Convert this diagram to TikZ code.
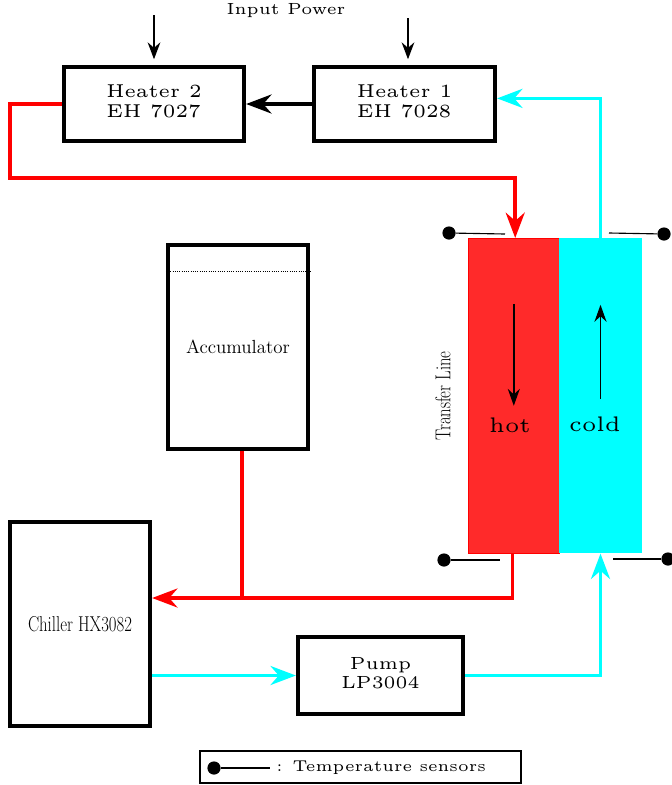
\documentclass[tikz,border=0pt]{standalone}
\usepackage{graphicx}
\usetikzlibrary{arrows.meta,calc,positioning}
\definecolor{hotred}{RGB}{255,42,42}
\definecolor{aqua}{RGB}{0,255,255}
\newcommand{\wtext}[3][c]{\scalebox{#2}{\fontsize{5}{4.6}\selectfont\begin{tabular}{@{}#1@{}}#3\end{tabular}}}
\newcommand{\ntext}[1]{\scalebox{0.70}[0.9]{\fontsize{17}{20}\selectfont #1}}

\begin{document}
\begin{tikzpicture}[x=0.025cm,y=-0.025cm,
  box/.style={draw,line width=3pt,rectangle,inner sep=0pt},
  flow/.style={line width=2.6pt,-{Stealth[length=18pt,width=13.5pt]}},
  hotline/.style={flow,red},
  coldline/.style={flow,aqua},
  power/.style={line width=1.4pt,-{Stealth[length=12pt,width=9pt]},shorten >=4pt},
  dirarrow/.style={line width=1.4pt,-{Stealth[length=12pt,width=8.5pt]}},
  sdot/.style={circle,fill=black,inner sep=0pt,minimum size=0.33cm},
  sensor/.style={line width=0.8pt},
]
\useasboundingbox (0,0) rectangle (672,785);

% the heaters
\node[box,minimum width=4.5cm,minimum height=1.85cm] (h2) at (154,104) {\wtext[l]{2.65}{Heater 2\\[0.5pt]EH 7027}};
\node[box,minimum width=4.525cm,minimum height=1.85cm] (h1) at (404.5,104) {\wtext[l]{2.65}{Heater 1\\[0.5pt]EH 7028}};
\node (inpow) at (286,11) {\wtext{2.3}{Input Power}};
\coordinate (p2) at (154,15);
\coordinate (p1) at (408,18);
\draw[power] (p2) -- (p2 |- h2.north);
\draw[power] (p1) -- (p1 |- h1.north);
\draw[flow,line width=2.8pt] (h1.west) -- (h2.east);

% the transfer line
\node[fill=hotred,draw=red,line width=0.4pt,inner sep=0pt,minimum width=2.275cm,minimum height=7.875cm] (hot) at (513.8,395.8) {};
\node[fill=aqua,inner sep=0pt,minimum width=2.06cm,minimum height=7.875cm] (cold) at (600.5,395.8) {};
\node (hottxt) at (510,428) {\wtext{3}{hot}};
\node (coldtxt) at (595,427) {\wtext{3}{cold}};
\node[rotate=90] (tltxt) at (443,396) {\ntext{Transfer Line}};
\draw[dirarrow] ($(hot.center)+(0,-92)$) -- ($(hot.center)+(0,10)$);
\draw[dirarrow] ($(cold.center)+(0,3)$) -- ($(cold.center)+(0,-91)$);

% the sensors
\foreach \n/\d/\e in {1/{449,233}/{505,234},2/{664,234}/{609,233},3/{444,560}/{500,560},4/{668,559}/{613,559}}{
  \node[sdot] (s\n) at (\d) {};
  \coordinate (t\n) at (\e);
  \draw[sensor] (s\n) -- (t\n);
}

% accumulator, chiller, pump
\node[box,minimum width=3.5cm,minimum height=5.1cm] (acc) at (238,347) {\fontsize{13.5}{15}\selectfont Accumulator};
\draw[densely dotted,line width=0.6pt] ($(acc.north west)+(0,29)$) -- ($(acc.north east)+(0,29)$);
\node[box,minimum width=3.5cm,minimum height=5.1cm] (chill) at (80,624) {\ntext{Chiller HX3082}};
\node[box,minimum width=4.125cm,minimum height=1.925cm] (pump) at (380.5,675.5) {\wtext{2.5}{Pump\\[0.6pt]LP3004}};

% hot loop
\coordinate (bend1) at (10,178);
\draw[hotline] (h2.west) -| (bend1) -| ([xshift=1pt]hot.north);
\coordinate (join) at (242,598);
\draw[hotline] ([xshift=-1pt]hot.south) |- (join) -- (join -| chill.east);
\draw[hotline,-] (acc.south -| join) -- (join);

% cold loop
\draw[coldline] (chill.east |- pump.west) -- (pump.west);
\draw[coldline] (pump.east) -| (cold.south);
\draw[coldline] (cold.north) |- ([yshift=4pt]h1.east);

% the legend
\node[draw,line width=1.4pt,inner sep=0pt,minimum width=8.025cm,minimum height=0.8cm] (legend) at (360.5,767) {};
\node[sdot] (ld) at (214,768) {};
\coordinate (le) at (270,768);
\draw[sensor] (ld) -- (le);
\node[right=1pt of le] (ltxt) {\wtext{2.23}{: Temperature sensors}};
\end{tikzpicture}
\end{document}
